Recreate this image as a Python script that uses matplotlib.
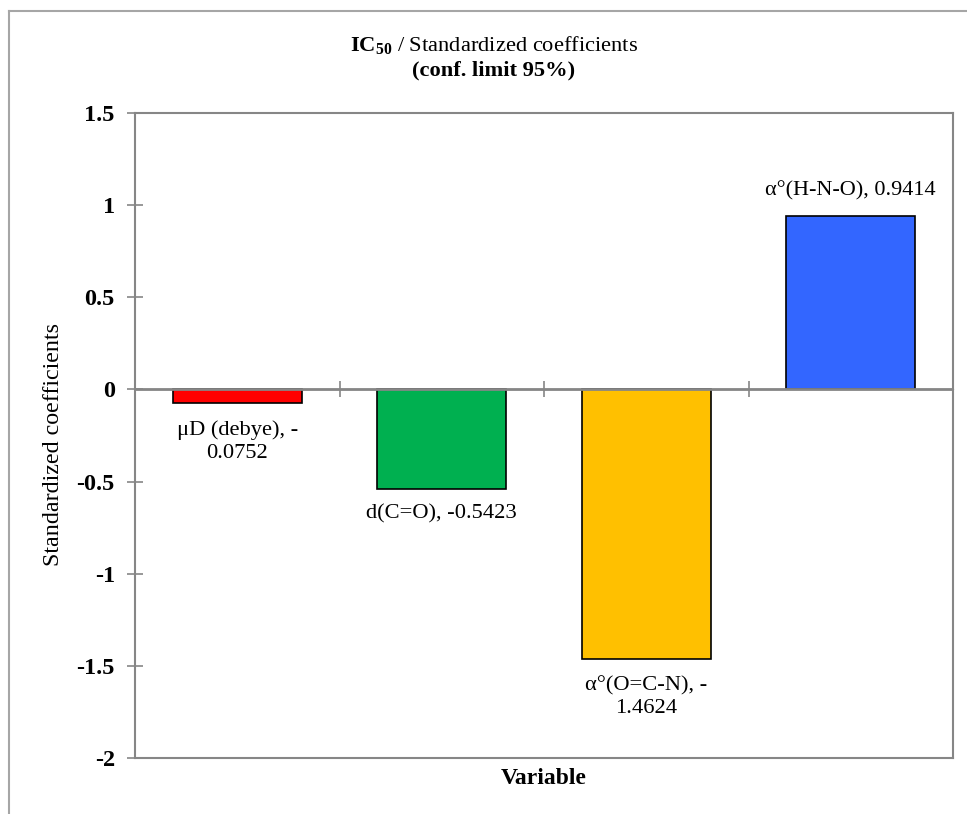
import matplotlib
matplotlib.use("Agg")
import matplotlib.pyplot as plt
from matplotlib.lines import Line2D
import numpy as np

plt.rcParams['font.family'] = ['Liberation Serif', 'DejaVu Serif']
plt.rcParams['mathtext.fontset'] = 'custom'
plt.rcParams['mathtext.rm'] = 'Liberation Serif'
plt.rcParams['mathtext.bf'] = 'Liberation Serif:bold'

variables = ["μD (debye)", "d(C=O)", "α°(O=C-N)", "α°(H-N-O)"]
coefficients = [-0.0752, -0.5423, -1.4624, 0.9414]
bar_colors = ["#FF0000", "#00B050", "#FFC000", "#3366FF"]
bar_labels = ["μD (debye), -\n0.0752", "d(C=O), -0.5423", "α°(O=C-N), -\n1.4624", "α°(H-N-O), 0.9414"]
y_ticks = [-2, -1.5, -1, -0.5, 0, 0.5, 1, 1.5]
y_tick_labels = ["-2", "-1.5", "-1", "-0.5", "0", "0.5", "1", "1.5"]

W, H = 967, 814
fig = plt.figure(figsize=(W / 100, H / 100), dpi=100)
ax = fig.add_axes([135 / W, 1 - 758 / H, (953 - 135) / W, (758 - 113) / H])

gray = "#868686"
x = np.arange(len(variables))
bars = ax.bar(x, coefficients, width=0.63, color=bar_colors, edgecolor="black",
              linewidth=1.2, zorder=2)
ax.set_xlim(-0.5, len(variables) - 0.5)
ax.set_ylim(-2, 1.5)

for xi, v, lab in zip(x, coefficients, bar_labels):
    if v < 0:
        off = -12 if "\n" in lab else -10.5
        ax.annotate(lab, (xi, v), xytext=(0, off), textcoords="offset points",
                    ha="center", va="top", fontsize=16.2, linespacing=1.3)
    else:
        ax.annotate(lab, (xi, v), xytext=(0, 11), textcoords="offset points",
                    ha="center", va="bottom", fontsize=16.0, linespacing=1.3)

for s in ax.spines.values():
    s.set_color(gray)
    s.set_linewidth(1.5)

ax.set_yticks(y_ticks)
ax.set_yticklabels(y_tick_labels, fontsize=17.5, fontweight="bold")
ax.tick_params(axis="y", direction="inout", length=11, width=1.2, color=gray, pad=9)
ax.set_xticks([])

# zero axis with category-boundary ticks
ax.axhline(0, color=gray, lw=2, zorder=3)
zero_frac = (0 - (-2)) / 3.5
sec = ax.secondary_xaxis(zero_frac)
sec.set_xticks(np.arange(len(variables) + 1) - 0.5)
sec.set_xticklabels([])
sec.tick_params(direction="inout", length=11, width=1.2, color=gray)
sec.spines["bottom"].set_color(gray)
sec.spines["bottom"].set_linewidth(2)

ax.set_ylabel("Standardized coefficients", fontsize=17.3, va="center")
ax.yaxis.set_label_coords((54 - 135) / (953 - 135), (758 - 444) / (758 - 113))
ax.set_xlabel("Variable", fontsize=17, fontweight="bold", va="center")
ax.xaxis.set_label_coords(0.5, -(778 - 758) / (758 - 113))

fig.text(494 / W, 1 - 45 / H, r"$\mathbf{IC_{50}}$ / Standardized coefficients",
         ha="center", va="center", fontsize=16.2)
fig.text(494 / W, 1 - 70 / H, "(conf. limit 95%)", ha="center", va="center",
         fontsize=16.2, fontweight="bold")

# outer chart border
fig.add_artist(Line2D([9 / W, 9 / W], [0, 1 - 11 / H], transform=fig.transFigure,
                      color="#A6A6A6", lw=1.5))
fig.add_artist(Line2D([9 / W, 1], [1 - 11 / H, 1 - 11 / H], transform=fig.transFigure,
                      color="#A6A6A6", lw=1.5))

fig.savefig("out.png", dpi=100)
